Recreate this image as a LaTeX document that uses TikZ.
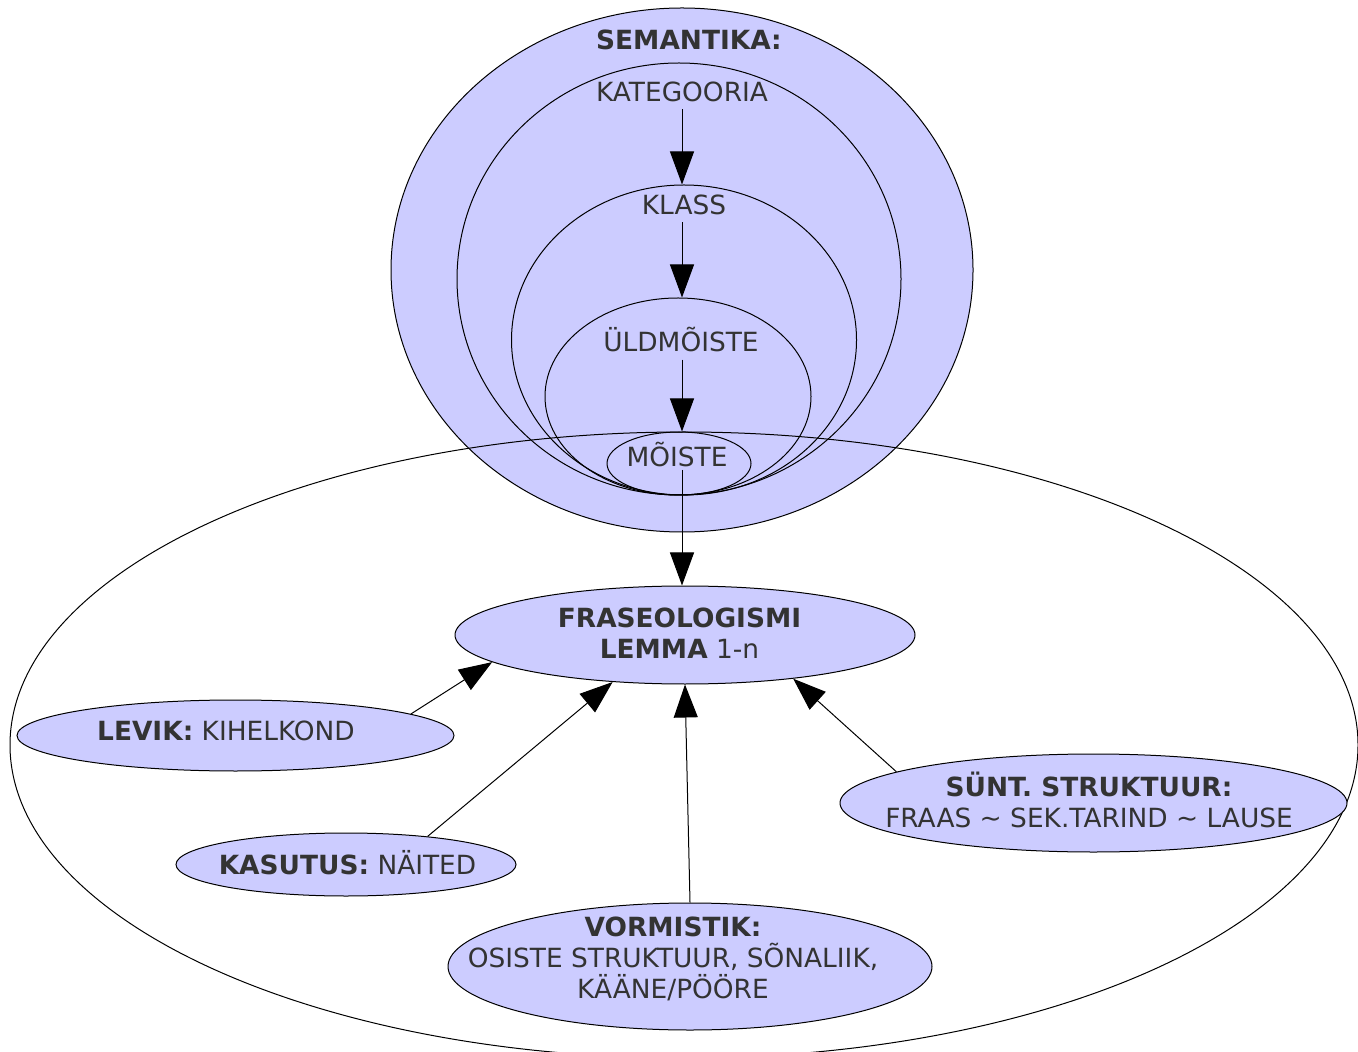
\documentclass[tikz,border=0pt]{standalone}
\usepackage{fontspec}
\setmainfont{DejaVu Sans}
\usetikzlibrary{shapes.geometric,arrows.meta}
\definecolor{lilac}{HTML}{CCCCFF}
\definecolor{ink}{HTML}{333333}
\tikzset{blob/.style={ellipse, draw, fill=lilac, inner sep=0pt},
  ring/.style={ellipse, draw, inner sep=0pt},
  txt/.style={text=ink, align=center, font=\fontsize{13.2}{15.5}\selectfont},
  ->-/.style={-{Triangle[length=16.5pt,width=12pt]}}}

\begin{document}
\begin{tikzpicture}[x=0.5pt,y=-0.5pt,line width=0.5pt]
    \useasboundingbox (0,0) rectangle (1358,1052);
    % semantika
    \node[blob, minimum width=291pt, minimum height=262pt] (sem) at (682,270) {};
    \node[ring, minimum width=222pt, minimum height=216pt] (kat) at (679,279) {};
    \node[ring, minimum width=172.5pt, minimum height=155pt] (klass) at (684,340) {};
    \node[ring, minimum width=133pt, minimum height=98.5pt] (uld) at (678,396.5) {};
    \node[ring, minimum width=72pt, minimum height=31.5pt] (moiste) at (679,463.5) {};
    \node[txt] (sem-t) at (689,40) {\textbf{SEMANTIKA:}};
    \node[txt] (kat-t) at (682,92) {KATEGOORIA};
    \node[txt] (klass-t) at (684,205) {KLASS};
    \node[txt] (uld-t) at (681,340) {ÜLDMÕISTE};
    \node[txt, inner sep=1pt] (moiste-t) at (677,455) {MÕISTE};
    % outer
    \node[ring, minimum width=674pt, minimum height=313pt] (outer) at (684,745) {};
    % fraseologism and its parts
    \node[blob, minimum width=230pt, minimum height=49pt] (fras) at (685,635) {};
    \node[blob, minimum width=218.5pt, minimum height=35.5pt] (levik) at (235.5,735.5) {};
    \node[blob, minimum width=170pt, minimum height=31.5pt] (kas) at (346,864.5) {};
    \node[blob, minimum width=242pt, minimum height=63.5pt] (vorm) at (690,966.5) {};
    \node[blob, minimum width=253.5pt, minimum height=49pt] (sunt) at (1093.5,803) {};
    \node[txt] (fras-t) at (679.5,633.5) {\textbf{FRASEOLOGISMI}\\\textbf{LEMMA} 1-n};
    \node[txt] (levik-t) at (226,731) {\textbf{LEVIK:} KIHELKOND};
    \node[txt] (kas-t) at (347.5,863) {\textbf{KASUTUS:} NÄITED};
    \node[txt] (vorm-t) at (673,959) {\textbf{VORMISTIK:}\\OSISTE STRUKTUUR, SÕNALIIK,\\KÄÄNE/PÖÖRE};
    \node[txt] (sunt-t) at (1089,799.5) {\textbf{SÜNT. STRUKTUUR:}\\FRAAS \textasciitilde{} SEK.TARIND \textasciitilde{} LAUSE};
    % arrows
    \draw[->-] (sem |- kat-t.south) -- (sem |- klass.north);
    \draw[->-] (sem |- klass-t.south) -- (sem |- uld.north);
    \draw[->-] (sem |- uld-t.south) -- (sem |- moiste.north);
    \draw[->-] (sem |- moiste-t.south) -- (sem |- fras.north);
    \draw[->-] (levik.7) -- (fras.188);
    \draw[->-] (kas.19) -- (fras.213);
    \draw[->-] (vorm.north) -- (fras.south);
    \draw[->-] (sunt.171) -- (fras.338);
  \end{tikzpicture}
\end{document}
